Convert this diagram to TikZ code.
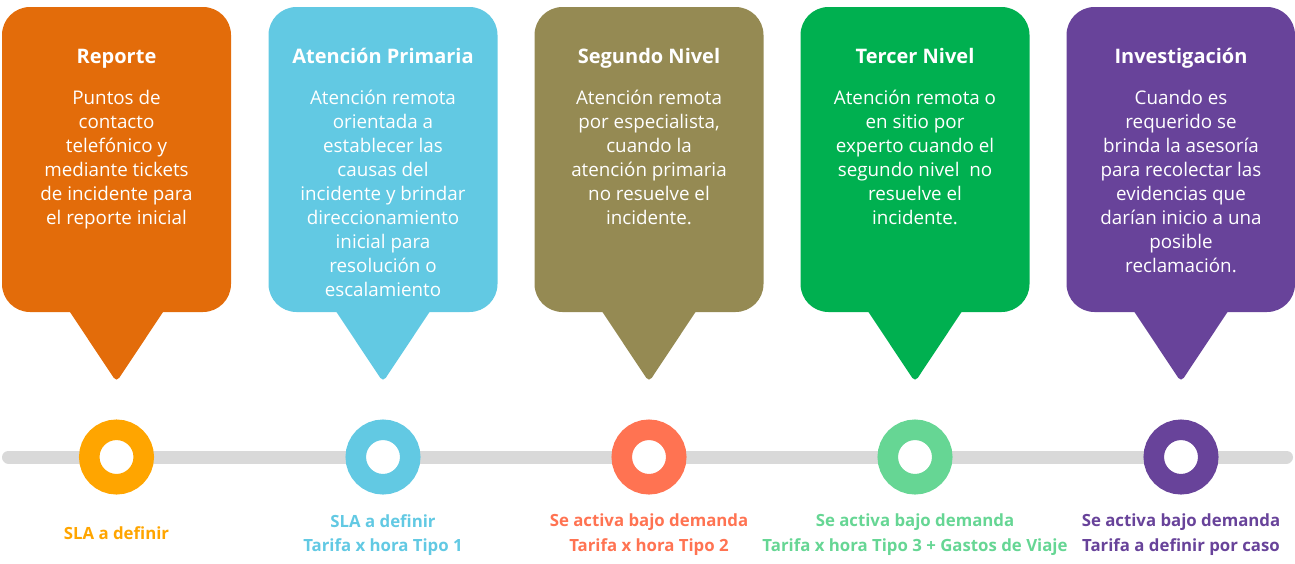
\documentclass[tikz,border=0pt]{standalone}
\usepackage{fontspec}
\setmainfont{Open Sans}

\definecolor{naranja}{HTML}{E36C0A}
\definecolor{celeste}{HTML}{62C9E3}
\definecolor{oliva}{HTML}{958A53}
\definecolor{verde}{HTML}{00B050}
\definecolor{morado}{HTML}{68439A}
\definecolor{ambar}{HTML}{FFA500}
\definecolor{coral}{HTML}{FF7352}
\definecolor{menta}{HTML}{66D694}
\definecolor{riel}{HTML}{D9D9D9}

\tikzset{
  caja/.style={rounded corners=28pt},
  punta/.style={rounded corners=5pt},
  titulo/.style={text=white, anchor=base, inner sep=0pt, font=\fontsize{20}{24}\selectfont\bfseries},
  cuerpo/.style={text=white, align=center, anchor=north, inner sep=0pt, font=\fontsize{18.8}{24}\selectfont},
  hito/.style={circle, fill=white, line width=20.5pt, minimum size=54.5pt, inner sep=0pt},
  nota/.style={align=center, anchor=north, inner sep=0pt, font=\fontsize{16.8}{24.5}\selectfont\bfseries},
}

\begin{document}
\begin{tikzpicture}[x=1pt,y=-1pt]
  \useasboundingbox (0,0) rectangle (1295,563);

  % globos
  \fill[naranja,caja] (2,7) rectangle (231,312);
  \fill[naranja,punta] (62,300) -- (171,300) -- (116.5,382) -- cycle;
  \fill[celeste,caja] (268.5,7) rectangle (497.5,312);
  \fill[celeste,punta] (328.5,300) -- (437.5,300) -- (383,382) -- cycle;
  \fill[oliva,caja] (534.5,7) rectangle (763.5,312);
  \fill[oliva,punta] (594.5,300) -- (703.5,300) -- (649,382) -- cycle;
  \fill[verde,caja] (800.5,7) rectangle (1029.5,312);
  \fill[verde,punta] (860.5,300) -- (969.5,300) -- (915,382) -- cycle;
  \fill[morado,caja] (1066.5,7) rectangle (1295,312);
  \fill[morado,punta] (1126.5,300) -- (1235.5,300) -- (1181,382) -- cycle;

  \node[titulo] (t1) at (116.5,63) {Reporte};
  \node[titulo] (t2) at (383,63) {Atención Primaria};
  \node[titulo] (t3) at (649,63) {Segundo Nivel};
  \node[titulo] (t4) at (915,63) {Tercer Nivel};
  \node[titulo] (t5) at (1181,63) {Investigación};

  \node[cuerpo] (d1) at (116.5,90) {Puntos de\\contacto\\telefónico y\\mediante tickets\\de incidente para\\el reporte inicial};
  \node[cuerpo] (d2) at (383,90) {Atención remota\\orientada a\\establecer las\\causas del\\incidente y brindar\\direccionamiento\\inicial para\\resolución o\\escalamiento};
  \node[cuerpo] (d3) at (649,90) {Atención remota\\por especialista,\\cuando la\\atención primaria\\no resuelve el\\incidente.};
  \node[cuerpo] (d4) at (915,90) {Atención remota o\\en sitio por\\experto cuando el\\segundo nivel\ \ no\\resuelve el\\incidente.};
  \node[cuerpo] (d5) at (1181,90) {Cuando es\\requerido se\\brinda la asesoría\\para recolectar las\\evidencias que\\darían inicio a una\\posible\\reclamación.};

  % linea de tiempo
  \coordinate (ini) at (8.5,457);
  \coordinate (fin) at (1286.5,457);
  \draw[riel,line width=13pt,line cap=round] (ini) -- (fin);

  \node[hito,draw=ambar] (h1) at (116.5,457) {};
  \node[hito,draw=celeste] (h2) at (383,457) {};
  \node[hito,draw=coral] (h3) at (649,457) {};
  \node[hito,draw=menta] (h4) at (915,457) {};
  \node[hito,draw=morado] (h5) at (1181,457) {};

  \node[nota,text=ambar] (n1) at (116.5,526) {SLA a definir};
  \node[nota,text=celeste] (n2) at (383,514) {SLA a definir\\Tarifa x hora Tipo 1};
  \node[nota,text=coral] (n3) at (649,514) {Se activa bajo demanda\\Tarifa x hora Tipo 2};
  \node[nota,text=menta] (n4) at (915,514) {Se activa bajo demanda\\Tarifa x hora Tipo 3 + Gastos de Viaje};
  \node[nota,text=morado] (n5) at (1181,514) {Se activa bajo demanda\\Tarifa a definir por caso};
\end{tikzpicture}
\end{document}
